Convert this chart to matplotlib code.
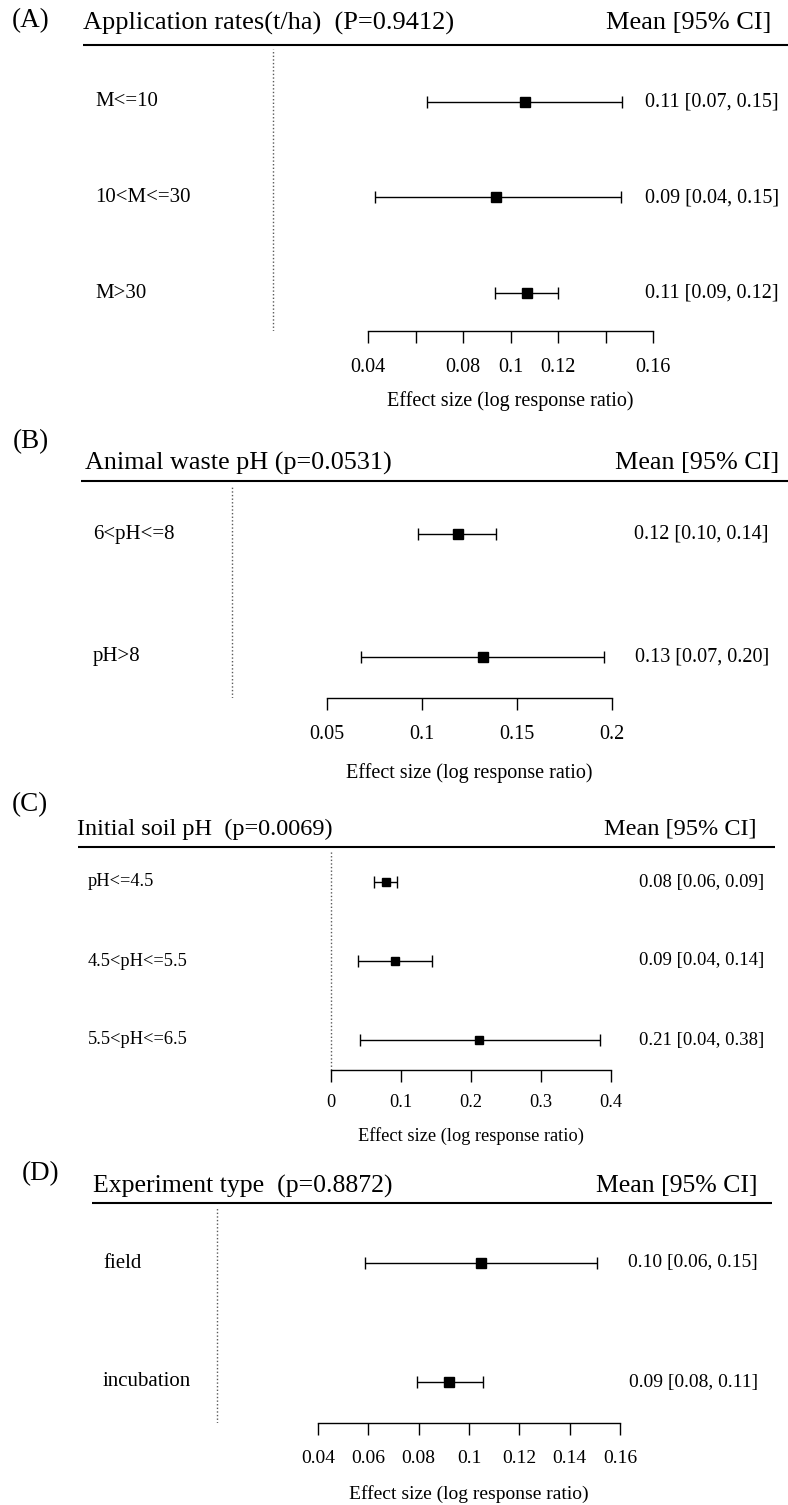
import matplotlib
matplotlib.use("Agg")
import matplotlib.pyplot as plt
from matplotlib.transforms import blended_transform_factory

plt.rcParams['font.family'] = ['Liberation Serif', 'DejaVu Serif']

W, H = 788, 1505

# ---- data ----
a_labels = ['M<=10', '10<M<=30', 'M>30']
a_est = [0.106, 0.094, 0.107]
a_lo = [0.065, 0.043, 0.0935]
a_hi = [0.147, 0.1465, 0.120]
a_text = ['0.11 [0.07, 0.15]', '0.09 [0.04, 0.15]', '0.11 [0.09, 0.12]']
a_ticks = [0.04, 0.06, 0.08, 0.10, 0.12, 0.14, 0.16]
a_ticklabels = ['0.04', '', '0.08', '0.1', '0.12', '', '0.16']

b_labels = ['6<pH<=8', 'pH>8']
b_est = [0.119, 0.132]
b_lo = [0.098, 0.068]
b_hi = [0.139, 0.196]
b_text = ['0.12 [0.10, 0.14]', '0.13 [0.07, 0.20]']
b_ticks = [0.05, 0.10, 0.15, 0.20]
b_ticklabels = ['0.05', '0.1', '0.15', '0.2']

c_labels = ['pH<=4.5', '4.5<pH<=5.5', '5.5<pH<=6.5']
c_est = [0.078, 0.091, 0.212]
c_lo = [0.062, 0.038, 0.041]
c_hi = [0.094, 0.144, 0.384]
c_text = ['0.08 [0.06, 0.09]', '0.09 [0.04, 0.14]', '0.21 [0.04, 0.38]']
c_ticks = [0.0, 0.1, 0.2, 0.3, 0.4]
c_ticklabels = ['0', '0.1', '0.2', '0.3', '0.4']

d_labels = ['field', 'incubation']
d_est = [0.1046, 0.0922]
d_lo = [0.0585, 0.0793]
d_hi = [0.1507, 0.1055]
d_text = ['0.10 [0.06, 0.15]', '0.09 [0.08, 0.11]']
d_ticks = [0.04, 0.06, 0.08, 0.10, 0.12, 0.14, 0.16]
d_ticklabels = ['0.04', '0.06', '0.08', '0.1', '0.12', '0.14', '0.16']

panels = [
    dict(tag='(A)', title='Application rates(t/ha)  (P=0.9412)',
         labels=a_labels, est=a_est, lo=a_lo, hi=a_hi, text=a_text,
         ticks=a_ticks, ticklabels=a_ticklabels,
         tick_px=(368, 653), tag_xy=(12, 21), title_xy=(83, 23), mean_r=771,
         line_y=45, line_x=(83, 788), rows_px=(102, 293), axis_y=331,
         lab_x=95, txt_r=779, fs_title=19, fs_lab=15, fs_txt=14.5, fs_tick=14.5,
         tick_pad=11, xlab_y=401, ms=7.2),
    dict(tag='(B)', title='Animal waste pH (p=0.0531)',
         labels=b_labels, est=b_est, lo=b_lo, hi=b_hi, text=b_text,
         ticks=b_ticks, ticklabels=b_ticklabels,
         tick_px=(327, 612), tag_xy=(13, 442), title_xy=(85, 463), mean_r=779,
         line_y=481, line_x=(81, 788), rows_px=(534, 657), axis_y=698,
         lab_x=93, txt_r=769, fs_title=18.8, fs_lab=15, fs_txt=14.5, fs_tick=14.5,
         tick_pad=11, xlab_y=773, ms=6.8),
    dict(tag='(C)', title='Initial soil pH  (p=0.0069)',
         labels=c_labels, est=c_est, lo=c_lo, hi=c_hi, text=c_text,
         ticks=c_ticks, ticklabels=c_ticklabels,
         tick_px=(331, 611), tag_xy=(12, 805), title_xy=(77, 829), mean_r=757,
         line_y=847, line_x=(78, 775), rows_px=(882, 1040), axis_y=1070,
         lab_x=88, txt_r=764, fs_title=17.5, fs_lab=13.2, fs_txt=13.5, fs_tick=13.2,
         tick_pad=9, xlab_y=1136, ms=6.3),
    dict(tag='(D)', title='Experiment type  (p=0.8872)',
         labels=d_labels, est=d_est, lo=d_lo, hi=d_hi, text=d_text,
         ticks=d_ticks, ticklabels=d_ticklabels,
         tick_px=(318, 620), tag_xy=(22, 1174), title_xy=(93, 1186), mean_r=757,
         line_y=1203, line_x=(92, 772), rows_px=(1263, 1382), axis_y=1423,
         lab_x=103, txt_r=758, fs_title=18.5, fs_lab=15, fs_txt=14, fs_tick=14,
         tick_pad=11, xlab_y=1494, ms=6.8),
]

fig = plt.figure(figsize=(W / 100, H / 100), dpi=100)
fig.patch.set_facecolor('white')

for p in panels:
    k = len(p['labels'])
    rows = list(range(k, 0, -1))
    r0, r1 = p['rows_px']
    step = (r1 - r0) / (k - 1)
    ytop = k + (r0 - p['line_y']) / step
    ybot = 1 - (p['axis_y'] - r1) / step

    ax = fig.add_axes([0, 1 - p['axis_y'] / H, 1, (p['axis_y'] - p['line_y']) / H])
    t0, t1 = p['ticks'][0], p['ticks'][-1]
    px0, px1 = p['tick_px']
    s = (px1 - px0) / (t1 - t0)
    ax.set_xlim(t0 - px0 / s, t0 + (W - px0) / s)
    ax.set_ylim(ybot, ytop)
    ax.patch.set_alpha(0)

    for side in ['top', 'left', 'right']:
        ax.spines[side].set_visible(False)
    ax.spines['bottom'].set_bounds(t0, t1)
    ax.spines['bottom'].set_linewidth(1.0)
    ax.set_yticks([])
    ax.set_xticks(p['ticks'])
    ax.set_xticklabels(p['ticklabels'])
    ax.tick_params(axis='x', direction='out', length=8.5, width=1.0,
                   pad=p['tick_pad'], labelsize=p['fs_tick'])

    # reference line at zero (from just under the header rule down to the axis)
    gap = 4 / step
    ax.plot([0, 0], [ybot, ytop - gap], ls=(0, (1, 1.6)), lw=1.0, color='0.35')

    # estimates with CI
    xerr = [[e - l for e, l in zip(p['est'], p['lo'])],
            [h - e for e, h in zip(p['est'], p['hi'])]]
    ax.errorbar(p['est'], rows, xerr=xerr, fmt='s', color='black', ms=p['ms'],
                ecolor='black', elinewidth=1.0, capsize=4.2, capthick=1.0)

    tr = blended_transform_factory(ax.transAxes, ax.transData)
    for r, lab, txt in zip(rows, p['labels'], p['text']):
        ax.text(p['lab_x'] / W, r, lab, transform=tr, ha='left', va='center',
                fontsize=p['fs_lab'])
        ax.text(p['txt_r'] / W, r, txt, transform=tr, ha='right', va='center',
                fontsize=p['fs_txt'])

    # header rule
    ax.plot([p['line_x'][0] / W, p['line_x'][1] / W], [1, 1], transform=ax.transAxes,
            color='black', lw=1.5, clip_on=False, solid_capstyle='butt')

    # headers
    fig.text(p['tag_xy'][0] / W, 1 - p['tag_xy'][1] / H, p['tag'], ha='left',
             va='center', fontsize=19.5)
    fig.text(p['title_xy'][0] / W, 1 - p['title_xy'][1] / H, p['title'], ha='left',
             va='center', fontsize=p['fs_title'])
    fig.text(p['mean_r'] / W, 1 - p['title_xy'][1] / H, 'Mean [95% CI]', ha='right',
             va='center', fontsize=p['fs_title'])

    # x label centred under the axis
    xb = blended_transform_factory(ax.transData, fig.transFigure)
    ax.text((t0 + t1) / 2, 1 - p['xlab_y'] / H, 'Effect size (log response ratio)',
            transform=xb, ha='center', va='center', fontsize=p['fs_tick'])

fig.savefig('out.png', dpi=100, facecolor='white')
